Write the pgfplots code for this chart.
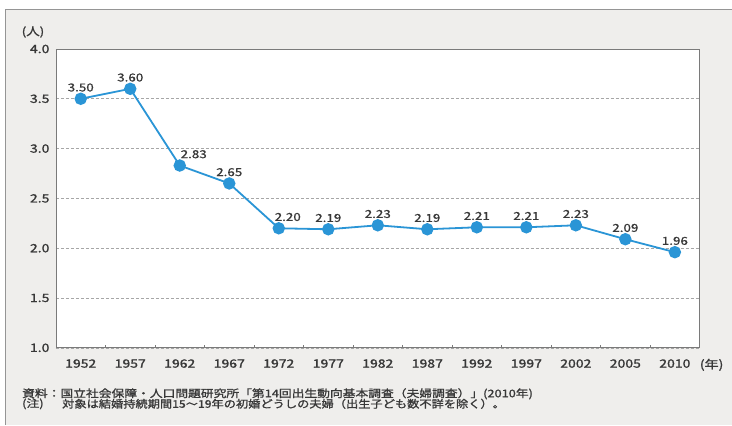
\documentclass[border=0pt]{standalone}
\usepackage{graphicx}
\usepackage{pgfplots}
\pgfplotsset{compat=1.18}
\usepackage{fontspec}
\setmainfont{Noto Sans CJK JP}
\newfontfamily\boldish{Noto Sans CJK JP}[FakeBold=1.2]
\newfontfamily\medish{Noto Sans CJK JP}[FakeBold=0.8]
\newcommand{\wide}[1]{\scalebox{1.22}[1]{#1}}
\definecolor{bg}{HTML}{EFEEEC}
\definecolor{ptblue}{HTML}{2A95D6}
\definecolor{txt}{HTML}{383838}
\definecolor{frame}{HTML}{7A7A7A}
\pgfplotstableread{
x y l
0 3.50 3.50
1 3.60 3.60
2 2.83 2.83
3 2.65 2.65
4 2.20 2.20
5 2.19 2.19
6 2.23 2.23
7 2.19 2.19
8 2.21 2.21
9 2.21 2.21
10 2.23 2.23
11 2.09 2.09
12 1.96 1.96
}\datatable
\begin{document}
\begin{tikzpicture}
\fill[white] (0pt,0pt) rectangle (732pt,425pt);
\fill[bg] (5pt,0pt) rectangle (732pt,416pt);
\draw[frame!80, line width=0.8pt] (5pt,0pt) -- (5pt,416pt) -- (732pt,416pt);
\begin{axis}[
  at={(56pt,77pt)}, anchor=south west,
  scale only axis, width=644pt, height=299pt,
  xmin=-0.5, xmax=12.5, ymin=1, ymax=4,
  clip=false,
  axis background/.style={fill=white},
  axis line style={frame, line width=0.9pt},
  xtick={0,...,12},
  xticklabels={\wide{1952},\wide{1957},\wide{1962},\wide{1967},\wide{1972},\wide{1977},\wide{1982},\wide{1987},\wide{1992},\wide{1997},\wide{2002},\wide{2005},\wide{2010}},
  minor xtick={0.5,1.5,...,11.5},
  major x tick style={draw=none},
  minor x tick style={frame, line width=0.6pt},
  minor tick length=3pt,
  xtick pos=bottom,
  ytick={1,1.5,...,4},
  yticklabels={\wide{1.0},\wide{1.5},\wide{2.0},\wide{2.5},\wide{3.0},\wide{3.5},\wide{4.0}},
  major y tick style={draw=none},
  ymajorgrids,
  major grid style={gray!70, densely dashed, line width=0.6pt},
  tick label style={font=\boldish\fontsize{11.5}{12}\selectfont, text=txt},
  xticklabel style={yshift=-8pt},
  yticklabel style={xshift=-3pt},
]
\addplot[color=ptblue, line width=1.8pt, mark=*, mark size=5.3pt,
  nodes near coords={\wide{\pgfplotspointmeta}}, point meta=explicit symbolic,
  every node near coord/.style={font=\medish\fontsize{11}{11}\selectfont, text=txt, anchor=south, yshift=3pt},
  coordinate style/.condition={x==2}{xshift=14pt},
  coordinate style/.condition={x==4}{xshift=9pt},
] table[x=x, y=y, meta=l] {\datatable};
\end{axis}
\node[text=txt, font=\boldish\fontsize{11}{11}\selectfont] at (33pt,393pt) {\wide{(人)}};
\node[text=txt, font=\boldish\fontsize{11.5}{12}\selectfont] at (712pt,60pt) {\wide{(年)}};
\node[text=txt, font=\boldish\fontsize{10.5}{11}\selectfont, anchor=west, inner sep=0pt] at (22pt,31pt) {\resizebox{511pt}{\height}{資料：国立社会保障・人口問題研究所「第14回出生動向基本調査（夫婦調査）」(2010年)}};
\node[text=txt, font=\boldish\fontsize{10.5}{11}\selectfont, anchor=west, inner sep=0pt] at (22pt,21pt) {\wide{(注)}};
\node[text=txt, font=\boldish\fontsize{10.5}{11}\selectfont, anchor=west, inner sep=0pt] at (62pt,21pt) {\resizebox{443pt}{\height}{対象は結婚持続期間15～19年の初婚どうしの夫婦（出生子ども数不詳を除く）。}};
\end{tikzpicture}
\end{document}
